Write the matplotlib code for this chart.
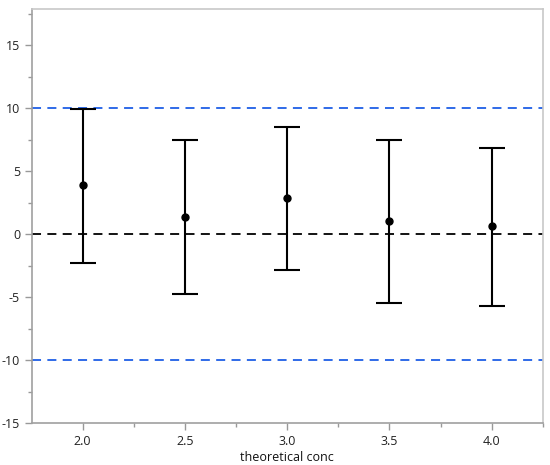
import numpy as np
import matplotlib.pyplot as plt
from matplotlib.ticker import MultipleLocator

conc = [2.0, 2.5, 3.0, 3.5, 4.0]
mean = [3.87, 1.35, 2.86, 1.06, 0.61]
upper = [9.95, 7.45, 8.52, 7.46, 6.80]
lower = [-2.27, -4.79, -2.86, -5.45, -5.69]
limits = [10, -10]

plt.rcParams['font.family'] = ['Open Sans', 'DejaVu Sans']
plt.rcParams['axes.unicode_minus'] = False

fig = plt.figure(figsize=(5.5, 4.65), dpi=100)
ax = fig.add_axes([0.058, 0.0903, 0.929, 0.8903])

mean = np.array(mean)
yerr = [mean - np.array(lower), np.array(upper) - mean]
ax.errorbar(conc, mean, yerr=yerr, fmt='o', color='black', ms=5,
            elinewidth=1.5, capsize=9.4, capthick=1.5, zorder=3)

for lim in limits:
    ax.axhline(lim, color='#1f5fe6', ls=(0, (5, 3.5)), lw=1.3, zorder=2)
ax.axhline(0, color='black', ls=(0, (5, 3.5)), lw=1.3, zorder=2)

ax.set_xlim(1.752, 4.25)
ax.set_ylim(-15, 17.86)
ax.set_xticks(conc)
ax.set_xticklabels([f'{c:.1f}' for c in conc])
ax.xaxis.set_minor_locator(MultipleLocator(0.25))
ax.yaxis.set_major_locator(MultipleLocator(5))
ax.yaxis.set_minor_locator(MultipleLocator(2.5))
ax.tick_params(which='major', length=5, width=1, color='#999999', labelsize=9, labelcolor='#222222')
ax.tick_params(which='minor', length=3, width=1, color='#999999')
ax.set_xlabel('theoretical conc', fontsize=9, color='#111111', labelpad=2)

for s in ['left', 'bottom']:
    ax.spines[s].set_color('#a0a0a0')
    ax.spines[s].set_linewidth(1.2)
for s in ['top', 'right']:
    ax.spines[s].set_color('#c8c8c8')
    ax.spines[s].set_linewidth(1.2)

fig.savefig('out.png', dpi=100)
